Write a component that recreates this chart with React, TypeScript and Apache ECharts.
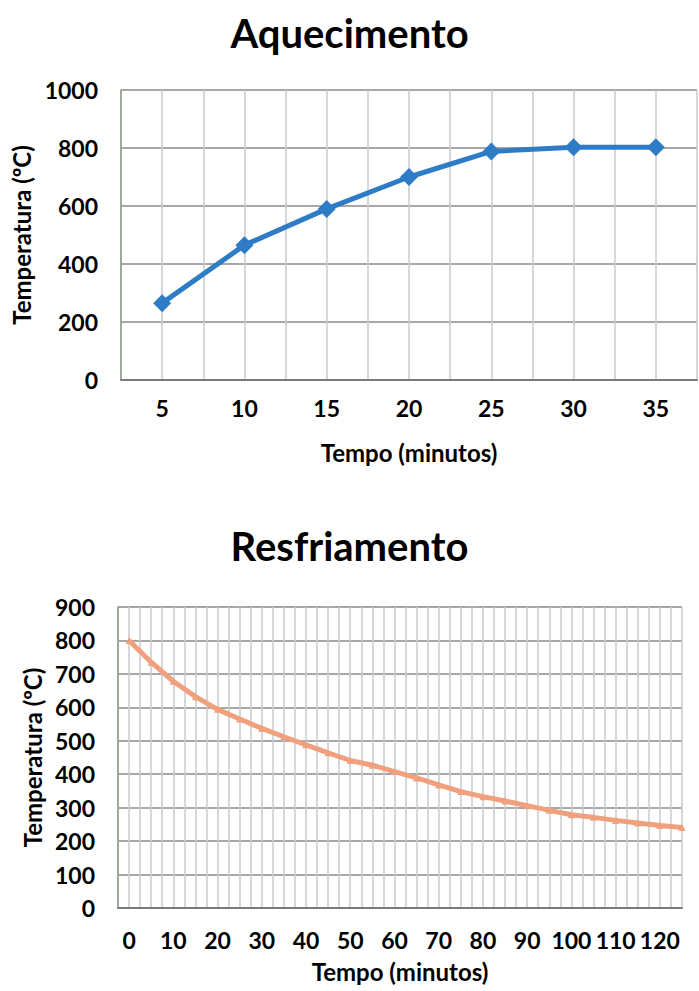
import React, { useEffect, useRef } from 'react';
import * as echarts from 'echarts';

const heatTime = [5, 10, 15, 20, 25, 30, 35];
const heatTemp = [265, 465, 590, 700, 788, 803, 803];
const heatXLabels = [5, 10, 15, 20, 25, 30, 35];

const coolTime = [0, 5, 10, 15, 20, 25, 30, 35, 40, 45, 50, 55, 60, 65, 70, 75, 80, 85, 90, 95, 100, 105, 110, 115, 120, 125];
const coolTemp = [800, 735, 678, 632, 594, 565, 537, 512, 488, 464, 441, 427, 408, 389, 368, 348, 333, 320, 306, 292, 279, 271, 262, 254, 247, 241];
const coolXLabels = [0, 10, 20, 30, 40, 50, 60, 70, 80, 90, 100, 110, 120];

const FONT = 'Lato';

const hasLabel = (list: number[], v: number) => list.some((l) => Math.abs(l - v) < 1e-6);

export default function App() {
  const ref = useRef<HTMLDivElement>(null);
  useEffect(() => {
    const chart = echarts.init(ref.current!, null, { renderer: 'svg' });
    const tickText = { color: '#000', fontFamily: FONT, fontWeight: 'bold', fontSize: 23 };
    const xNameText = { color: '#000', fontFamily: FONT, fontWeight: 'bold', fontSize: 24 };
    const yNameText = { color: '#000', fontFamily: FONT, fontWeight: 'bold', fontSize: 24 };
    const titleText = { color: '#000', fontFamily: FONT, fontWeight: 'bold', fontSize: 40 };
    const hLine = { show: true, lineStyle: { color: '#8a8a8a', width: 1.5 } };
    const vLine = { show: true, lineStyle: { color: '#c3cbd1', width: 1.5 } };
    chart.setOption({
      animation: false,
      backgroundColor: '#ffffff',
      title: [
        { text: 'Aquecimento', left: 'center', top: 8, textStyle: titleText },
        { text: 'Resfriamento', left: 'center', top: 521, textStyle: titleText },
      ],
      grid: [
        { left: 121, top: 90, width: 576, height: 290, outerBoundsMode: 'none', containLabel: false },
        { left: 118, top: 607, width: 564, height: 301, outerBoundsMode: 'none', containLabel: false },
      ],
      xAxis: [
        {
          gridIndex: 0, type: 'value', min: 2.5, max: 37.5, interval: 2.5,
          name: 'Tempo (minutos)', nameLocation: 'middle', nameGap: 60, nameTextStyle: xNameText,
          axisLine: { show: true, onZero: false, lineStyle: { color: '#7a7a7a', width: 2 } },
          axisTick: { show: false },
          axisLabel: { ...tickText, margin: 16, showMinLabel: true, showMaxLabel: true,
            formatter: (v: number) => (hasLabel(heatXLabels, v) ? String(Math.round(v)) : '') },
          splitLine: vLine,
        },
        {
          gridIndex: 1, type: 'value', min: -2.5, max: 125, interval: 2.5,
          name: 'Tempo (minutos)', nameLocation: 'middle', nameGap: 51, nameTextStyle: xNameText,
          axisLine: { show: true, onZero: false, lineStyle: { color: '#7a7a7a', width: 2 } },
          axisTick: { show: false },
          axisLabel: { ...tickText, margin: 20, showMinLabel: true, showMaxLabel: true,
            formatter: (v: number) => (hasLabel(coolXLabels, v) ? String(Math.round(v)) : '') },
          splitLine: vLine,
        },
      ],
      yAxis: [
        {
          gridIndex: 0, type: 'value', min: 0, max: 1000, interval: 200,
          name: 'Temperatura (ºC)', nameLocation: 'middle', nameGap: 84, nameRotate: 90, nameTextStyle: yNameText,
          axisLine: { show: true, onZero: false, lineStyle: { color: '#8e9a86', width: 1.5 } },
          axisTick: { show: false },
          axisLabel: { ...tickText, margin: 23, formatter: (v: number) => String(Math.round(v)) },
          splitLine: hLine,
        },
        {
          gridIndex: 1, type: 'value', min: 0, max: 900, interval: 100,
          name: 'Temperatura (ºC)', nameLocation: 'middle', nameGap: 73, nameRotate: 90, nameTextStyle: yNameText,
          axisLine: { show: true, onZero: false, lineStyle: { color: '#8e9a86', width: 1.5 } },
          axisTick: { show: false },
          axisLabel: { ...tickText, margin: 23, formatter: (v: number) => String(Math.round(v)) },
          splitLine: hLine,
        },
      ],
      series: [
        {
          type: 'line', xAxisIndex: 0, yAxisIndex: 0,
          data: heatTime.map((t, i) => [t, heatTemp[i]]),
          symbol: 'diamond', symbolSize: 18,
          lineStyle: { color: '#2e7cc6', width: 5 },
          itemStyle: { color: '#2e7cc6' },
        },
        {
          type: 'line', xAxisIndex: 1, yAxisIndex: 1,
          data: coolTime.map((t, i) => [t, coolTemp[i]]),
          symbol: 'triangle', symbolSize: 7,
          lineStyle: { color: '#f0a07c', width: 5 },
          itemStyle: { color: '#f0a07c' },
        },
      ],
    });
    return () => chart.dispose();
  }, []);
  return <div ref={ref} style={{ position: 'absolute', left: 0, top: 0, width: 699, height: 991 }} />;
}
